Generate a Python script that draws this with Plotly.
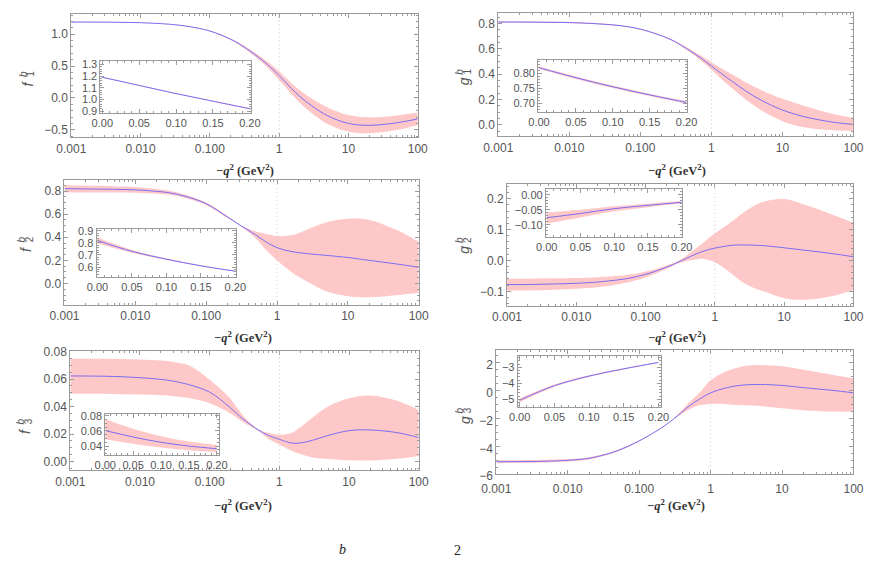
import plotly.graph_objects as go

W, H = 880, 567

# ---------------- data ----------------
xg = [0.001, 0.002, 0.005, 0.01, 0.02, 0.03, 0.05, 0.1, 0.2, 0.3, 0.5, 0.7, 1, 1.5, 2, 3, 5, 10, 20, 50, 100]
xi = [0.0, 0.05, 0.1, 0.15, 0.2]

f1_c = [1.19, 1.19, 1.186, 1.18, 1.165, 1.15, 1.12, 1.05, 0.92, 0.81, 0.64, 0.51, 0.35, 0.15, 0.02, -0.13, -0.28, -0.40, -0.43, -0.39, -0.33]
f1_up = [1.194, 1.194, 1.19, 1.184, 1.169, 1.154, 1.124, 1.056, 0.93, 0.83, 0.675, 0.56, 0.42, 0.235, 0.12, -0.015, -0.15, -0.27, -0.305, -0.275, -0.23]
f1_lo = [1.186, 1.186, 1.182, 1.176, 1.161, 1.146, 1.116, 1.044, 0.91, 0.79, 0.605, 0.46, 0.28, 0.065, -0.08, -0.245, -0.41, -0.53, -0.555, -0.505, -0.43]

g1_c = [0.812, 0.812, 0.81, 0.808, 0.801, 0.795, 0.785, 0.756, 0.703, 0.66, 0.585, 0.53, 0.465, 0.39, 0.34, 0.27, 0.195, 0.117, 0.065, 0.022, 0.003]
g1_up = [0.818, 0.818, 0.816, 0.813, 0.806, 0.80, 0.789, 0.76, 0.707, 0.666, 0.597, 0.55, 0.495, 0.435, 0.395, 0.338, 0.275, 0.205, 0.15, 0.087, 0.053]
g1_lo = [0.806, 0.806, 0.804, 0.803, 0.796, 0.79, 0.781, 0.752, 0.699, 0.654, 0.573, 0.51, 0.435, 0.345, 0.285, 0.202, 0.115, 0.029, -0.02, -0.043, -0.047]

f2_c = [0.82, 0.818, 0.815, 0.81, 0.797, 0.785, 0.755, 0.69, 0.575, 0.505, 0.42, 0.36, 0.31, 0.28, 0.267, 0.255, 0.243, 0.225, 0.20, 0.168, 0.14]
f2_up = [0.85, 0.848, 0.842, 0.835, 0.818, 0.803, 0.77, 0.70, 0.583, 0.508, 0.45, 0.43, 0.41, 0.415, 0.435, 0.48, 0.53, 0.56, 0.55, 0.46, 0.36]
f2_lo = [0.79, 0.788, 0.788, 0.785, 0.776, 0.767, 0.74, 0.68, 0.567, 0.502, 0.39, 0.29, 0.20, 0.11, 0.06, 0.0, -0.07, -0.11, -0.12, -0.10, -0.08]

g2_c = [-0.078, -0.078, -0.076, -0.074, -0.07, -0.066, -0.06, -0.045, -0.022, -0.005, 0.018, 0.031, 0.04, 0.047, 0.05, 0.05, 0.048, 0.041, 0.033, 0.022, 0.012]
g2_up = [-0.059, -0.059, -0.058, -0.057, -0.054, -0.052, -0.048, -0.036, -0.016, -0.001, 0.035, 0.06, 0.088, 0.115, 0.136, 0.165, 0.19, 0.199, 0.18, 0.148, 0.122]
g2_lo = [-0.097, -0.097, -0.095, -0.092, -0.087, -0.082, -0.073, -0.055, -0.028, -0.009, 0.002, 0.005, -0.006, -0.032, -0.054, -0.08, -0.10, -0.122, -0.127, -0.115, -0.096]

f3_c = [0.0623, 0.0622, 0.0618, 0.061, 0.0598, 0.0585, 0.056, 0.0505, 0.039, 0.031, 0.023, 0.019, 0.0162, 0.0135, 0.0135, 0.0155, 0.019, 0.0225, 0.023, 0.021, 0.0175]
f3_up = [0.0748, 0.0748, 0.0746, 0.0743, 0.0735, 0.0725, 0.070, 0.0595, 0.0455, 0.0335, 0.0235, 0.021, 0.0195, 0.021, 0.025, 0.032, 0.040, 0.046, 0.048, 0.044, 0.0375]
f3_lo = [0.0493, 0.0493, 0.049, 0.0488, 0.0482, 0.0476, 0.0462, 0.0425, 0.035, 0.0288, 0.0222, 0.0165, 0.0125, 0.0078, 0.0055, 0.003, 0.0018, 0.001, 0.0008, 0.002, 0.004]

g3_c = [-5.1, -5.09, -5.06, -5.0, -4.85, -4.65, -4.3, -3.6, -2.7, -2.05, -1.1, -0.6, -0.15, 0.15, 0.3, 0.42, 0.45, 0.38, 0.22, 0.03, -0.15]
g3_up = [-5.0, -4.99, -4.96, -4.91, -4.77, -4.58, -4.24, -3.56, -2.68, -2.03, -0.85, -0.15, 0.75, 1.3, 1.55, 1.78, 1.85, 1.75, 1.5, 1.15, 0.9]
g3_lo = [-5.2, -5.19, -5.16, -5.09, -4.93, -4.72, -4.36, -3.64, -2.72, -2.07, -1.35, -1.05, -0.95, -0.95, -1.0, -1.05, -1.1, -1.25, -1.4, -1.5, -1.5]

# insets (0 <= -q^2 <= 0.2)
f1i_c = [1.19, 1.12, 1.05, 0.985, 0.92]
f1i_up = [1.195, 1.124, 1.054, 0.989, 0.925]
f1i_lo = [1.185, 1.116, 1.046, 0.981, 0.915]

g1i_c = [0.818, 0.785, 0.755, 0.728, 0.703]
g1i_up = [0.822, 0.789, 0.759, 0.732, 0.707]
g1i_lo = [0.814, 0.781, 0.751, 0.724, 0.699]

f2i_c = [0.82, 0.73, 0.665, 0.61, 0.565]
f2i_up = [0.845, 0.742, 0.671, 0.614, 0.568]
f2i_lo = [0.795, 0.718, 0.659, 0.606, 0.562]

g2i_c = [-0.076, -0.062, -0.046, -0.035, -0.025]
g2i_up = [-0.059, -0.050, -0.038, -0.030, -0.021]
g2i_lo = [-0.095, -0.075, -0.055, -0.041, -0.029]

f3i_c = [0.0606, 0.052, 0.045, 0.040, 0.0365]
f3i_up = [0.076, 0.063, 0.053, 0.046, 0.0415]
f3i_lo = [0.049, 0.043, 0.038, 0.0345, 0.032]

g3i_c = [-5.06, -4.15, -3.55, -3.1, -2.7]
g3i_up = [-4.94, -4.08, -3.50, -3.06, -2.67]
g3i_lo = [-5.18, -4.22, -3.60, -3.14, -2.73]

log_tickvals = [0.001, 0.01, 0.1, 1, 10, 100]
log_ticktext = ["0.001", "0.010", "0.100", "1", "10", "100"]
inset_xticks = [0.0, 0.05, 0.1, 0.15, 0.2]

# ---------------- style ----------------
BAND = "#ffc8c8"
LINE = "#7b6cf2"
FRAME = "#9a9a9a"
TXT = "#555555"
FONT = "Liberation Sans"

fig = go.Figure()
layout = dict(width=W, height=H, margin=dict(l=0, r=0, t=0, b=0),
              paper_bgcolor="white", plot_bgcolor="white", showlegend=False,
              font=dict(family=FONT, size=12, color=TXT))
annotations = []
shapes = []


def dom_x(a, b):
    return [a / W, b / W]


def dom_y(top, bottom):
    return [1 - bottom / H, 1 - top / H]


def minor_log():
    vals = []
    for e in range(-3, 2):
        for m in range(2, 10):
            vals.append(m * 10 ** e)
    return vals


def add_panel(i, px, py, xs, c, up, lo, yrange, ytickvals, yfmt, yminor,
              logx=True, xrange=None, xtickvals=None, xfmt=None, xstandoff=None, yshift=None):
    xa = "x" if i == 1 else f"x{i}"
    ya = "y" if i == 1 else f"y{i}"
    xkey = "xaxis" if i == 1 else f"xaxis{i}"
    ykey = "yaxis" if i == 1 else f"yaxis{i}"
    fig.add_trace(go.Scatter(x=xs, y=lo, mode="lines", line=dict(width=0, shape="spline", color=BAND),
                             xaxis=xa, yaxis=ya, hoverinfo="skip"))
    fig.add_trace(go.Scatter(x=xs, y=up, mode="lines", line=dict(width=0, shape="spline", color=BAND),
                             fill="tonexty", fillcolor=BAND, xaxis=xa, yaxis=ya, hoverinfo="skip"))
    fig.add_trace(go.Scatter(x=xs, y=c, mode="lines", line=dict(width=1, shape="spline", color=LINE),
                             xaxis=xa, yaxis=ya))
    tsize = 12 if logx else 11
    common = dict(showline=True, linecolor=FRAME, linewidth=1, mirror="allticks",
                  ticks="inside", ticklen=4, tickcolor=FRAME, showgrid=False, zeroline=False,
                  tickfont=dict(family=FONT, size=tsize, color=TXT), fixedrange=True)
    if logx:
        layout[xkey] = dict(domain=dom_x(*px), anchor=ya, type="log", range=[-3, 2],
                            tickmode="array", tickvals=log_tickvals, ticktext=log_ticktext,
                            minor=dict(ticks="inside", ticklen=2, tickcolor=FRAME,
                                       tickmode="array", tickvals=minor_log()),
                            **common)
    else:
        layout[xkey] = dict(domain=dom_x(*px), anchor=ya, range=xrange,
                            tickmode="array", tickvals=xtickvals, tickformat=xfmt,
                            minor=dict(ticks="inside", ticklen=2, tickcolor=FRAME, dtick=0.01),
                            **common)
    if xstandoff is not None:
        layout[xkey]["ticklabelstandoff"] = xstandoff
    layout[ykey] = dict(domain=dom_y(*py), anchor=xa, range=yrange,
                        tickmode="array", tickvals=ytickvals, tickformat=yfmt,
                        minor=dict(ticks="inside", ticklen=2, tickcolor=FRAME, dtick=yminor),
                        **common)
    if yshift is not None:
        layout[ykey]["ticklabelshift"] = yshift
    if logx:
        shapes.append(dict(type="line", xref=xa, yref=f"{ya} domain", x0=1, x1=1, y0=0, y1=1,
                           line=dict(color="#c4c4c4", width=1, dash="1px,3px"), layer="above"))


# main panels
add_panel(1, (58, 415), (8, 135), xg, f1_c, f1_up, f1_lo, [-0.62, 1.32], [-0.5, 0, 0.5, 1.0], ".1f", 0.1)
add_panel(2, (498, 864), (7, 134), xg, g1_c, g1_up, g1_lo, [-0.092, 0.885], [0, 0.2, 0.4, 0.6, 0.8], ".1f", 0.05)
add_panel(3, (51, 416), (179, 307), xg, f2_c, f2_up, f2_lo, [-0.185, 0.893], [0, 0.2, 0.4, 0.6, 0.8], ".1f", 0.05)
add_panel(4, (507, 864), (183, 308), xg, g2_c, g2_up, g2_lo, [-0.147, 0.247], [-0.1, 0, 0.1, 0.2], ".1f", 0.02)
add_panel(5, (57, 416), (354, 477), xg, f3_c, f3_up, f3_lo, [-0.0064, 0.0807], [0, 0.02, 0.04, 0.06, 0.08], ".2f", 0.005)
add_panel(6, (496, 864), (353, 481), xg, g3_c, g3_up, g3_lo, [-6.0, 2.95], [-6, -4, -2, 0, 2], "d", 0.5,
          xstandoff=3, yshift=2)

# insets
add_panel(7, (88, 243), (57, 110), xi, f1i_c, f1i_up, f1i_lo, [0.883, 1.325], [0.9, 1.0, 1.1, 1.2, 1.3], ".1f", 0.02,
          logx=False, xrange=[-0.0026, 0.2013], xtickvals=inset_xticks, xfmt=".2f")
add_panel(8, (539, 692), (55, 109), xi, g1i_c, g1i_up, g1i_lo, [0.671, 0.845], [0.70, 0.75, 0.80], ".2f", 0.01,
          logx=False, xrange=[-0.0013, 0.2], xtickvals=inset_xticks, xfmt=".2f")
add_panel(9, (84, 228), (229, 278), xi, f2i_c, f2i_up, f2i_lo, [0.52, 0.916], [0.6, 0.7, 0.8, 0.9], ".1f", 0.02,
          logx=False, xrange=[-0.0014, 0.2014], xtickvals=inset_xticks, xfmt=".2f")
add_panel(10, (547, 687), (188, 237), xi, g2i_c, g2i_up, g2i_lo, [-0.139, 0.019], [-0.10, -0.05, 0.0], ".2f", 0.01,
          logx=False, xrange=[-0.0014, 0.2], xtickvals=inset_xticks, xfmt=".2f")
add_panel(11, (93, 210), (419, 461), xi, f3i_c, f3i_up, f3i_lo, [0.0284, 0.0826], [0.04, 0.06, 0.08], ".2f", 0.005,
          logx=False, xrange=[0.0, 0.2035], xtickvals=inset_xticks, xfmt=".2f")
add_panel(12, (518, 666), (360, 412), xi, g3i_c, g3i_up, g3i_lo, [-5.48, -2.33], [-5, -4, -3], "d", 0.2,
          logx=False, xrange=[-0.0028, 0.2042], xtickvals=inset_xticks, xfmt=".2f")


# axis labels (rotated f_i^b / g_i^b with stacked sub/superscript)
def ylab(letter, sub, x, y):
    f = dict(family=FONT, color=TXT)
    annotations.append(dict(text=f"<i>{letter}</i>", x=x / W, y=1 - y / H, xref="paper", yref="paper",
                            showarrow=False, textangle=-90, font=dict(size=14, **f),
                            xanchor="center", yanchor="middle"))
    annotations.append(dict(text=sub, x=(x + 3) / W, y=1 - (y - 10) / H, xref="paper", yref="paper",
                            showarrow=False, textangle=-90, font=dict(size=10, **f),
                            xanchor="center", yanchor="middle"))
    annotations.append(dict(text="<i>b</i>", x=(x - 5) / W, y=1 - (y - 10) / H, xref="paper", yref="paper",
                            showarrow=False, textangle=-90, font=dict(size=10, **f),
                            xanchor="center", yanchor="middle"))


ylab("f", "1", 13, 80)
ylab("g", "1", 463, 77)
ylab("f", "2", 12, 250)
ylab("g", "2", 463, 250)
ylab("f", "3", 11, 437)
ylab("g", "3", 463, 425)

xtitle = "<b>−<i>q</i><sup>2</sup> (GeV<sup>2</sup>)</b>"
for (x, y) in [(237, 168), (682, 168), (235, 340), (682, 340), (235, 513), (681, 513)]:
    annotations.append(dict(text=xtitle, x=x / W, y=1 - y / H, xref="paper", yref="paper", showarrow=False,
                            font=dict(family="Liberation Serif", size=12.5, color="#333333"),
                            xanchor="center", yanchor="middle"))

# caption fragments at the bottom edge
annotations.append(dict(text="<i>b</i>", x=337 / W, y=1 - 558 / H, xref="paper", yref="paper", showarrow=False,
                        font=dict(family="Liberation Serif", size=14, color="#222222"),
                        xanchor="center", yanchor="middle"))
annotations.append(dict(text="2", x=456 / W, y=1 - 559 / H, xref="paper", yref="paper", showarrow=False,
                        font=dict(family="Liberation Serif", size=14, color="#222222"),
                        xanchor="center", yanchor="middle"))

layout["annotations"] = annotations
layout["shapes"] = shapes
fig.update_layout(**layout)
fig.write_html("out.html")
